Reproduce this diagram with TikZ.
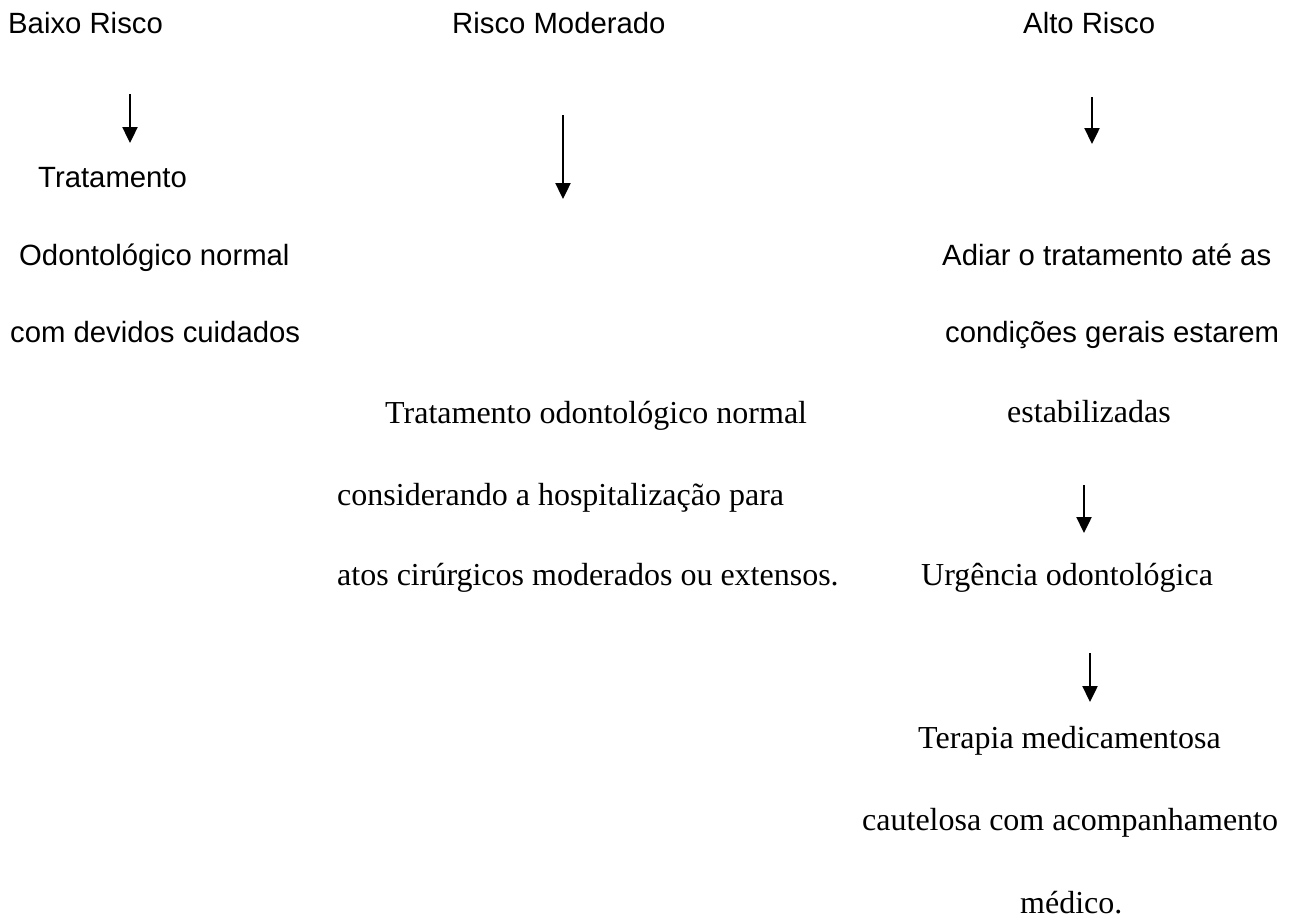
\documentclass[tikz,border=0pt]{standalone}
\usepackage{fontspec}
\setmainfont{Liberation Serif}
\newfontfamily\arial{Liberation Sans}
\usetikzlibrary{arrows.meta}

\begin{document}
\begin{tikzpicture}
	[
		x=1pt, y=-1pt,
		txt/.style = {anchor=base west, inner sep=0pt},
		stxt/.style = {txt, font=\arial\fontsize{29.3}{35}\selectfont},
		rtxt/.style = {txt, font=\fontsize{32}{38}\selectfont},
		seta/.style = {-{Triangle[length=16pt, width=15pt]}, line width=2.4pt}
	]
	
	\useasboundingbox (0,0) rectangle (1295,918);
	
	% baixo risco
	\node [stxt] (baixo) at (8,33) {Baixo Risco};
	\node [stxt] (b1) at (38,187) {Tratamento};
	\node [stxt] (b2) at (19,265) {Odontológico normal};
	\node [stxt] (b3) at (10,342) {com devidos cuidados};
	
	\coordinate (sb1) at (130,94);
	\coordinate (sb2) at (130,143);
	\draw [seta] (sb1) -- (sb2);
	
	% risco moderado
	\node [stxt] (moderado) at (452,33) {Risco Moderado};
	\node [rtxt] (m1) at (385,423) {Tratamento odontológico normal};
	\node [rtxt] (m2) at (337,505) {considerando a hospitalização para};
	\node [rtxt] (m3) at (337,585) {atos cirúrgicos moderados ou extensos.};
	
	\coordinate (sm1) at (563,115);
	\coordinate (sm2) at (563,199);
	\draw [seta] (sm1) -- (sm2);
	
	% alto risco
	\node [stxt] (alto) at (1023,33) {Alto Risco};
	\node [stxt] (a1) at (942,265) {Adiar o tratamento até as};
	\node [stxt] (a2) at (945,342) {condições gerais estarem};
	\node [rtxt] (a3) at (1007,422) {estabilizadas};
	\node [rtxt] (a4) at (921,585) {Urgência odontológica};
	\node [rtxt] (a5) at (918,748) {Terapia medicamentosa};
	\node [rtxt] (a6) at (862,830) {cautelosa com acompanhamento};
	\node [rtxt] (a7) at (1020,913) {médico.};
	
	\coordinate (sa1) at (1092,97);
	\coordinate (sa2) at (1092,144);
	\draw [seta] (sa1) -- (sa2);
	\coordinate (sa3) at (1084,485);
	\coordinate (sa4) at (1084,533);
	\draw [seta] (sa3) -- (sa4);
	\coordinate (sa5) at (1090,653);
	\coordinate (sa6) at (1090,702);
	\draw [seta] (sa5) -- (sa6);
	
\end{tikzpicture}
\end{document}
